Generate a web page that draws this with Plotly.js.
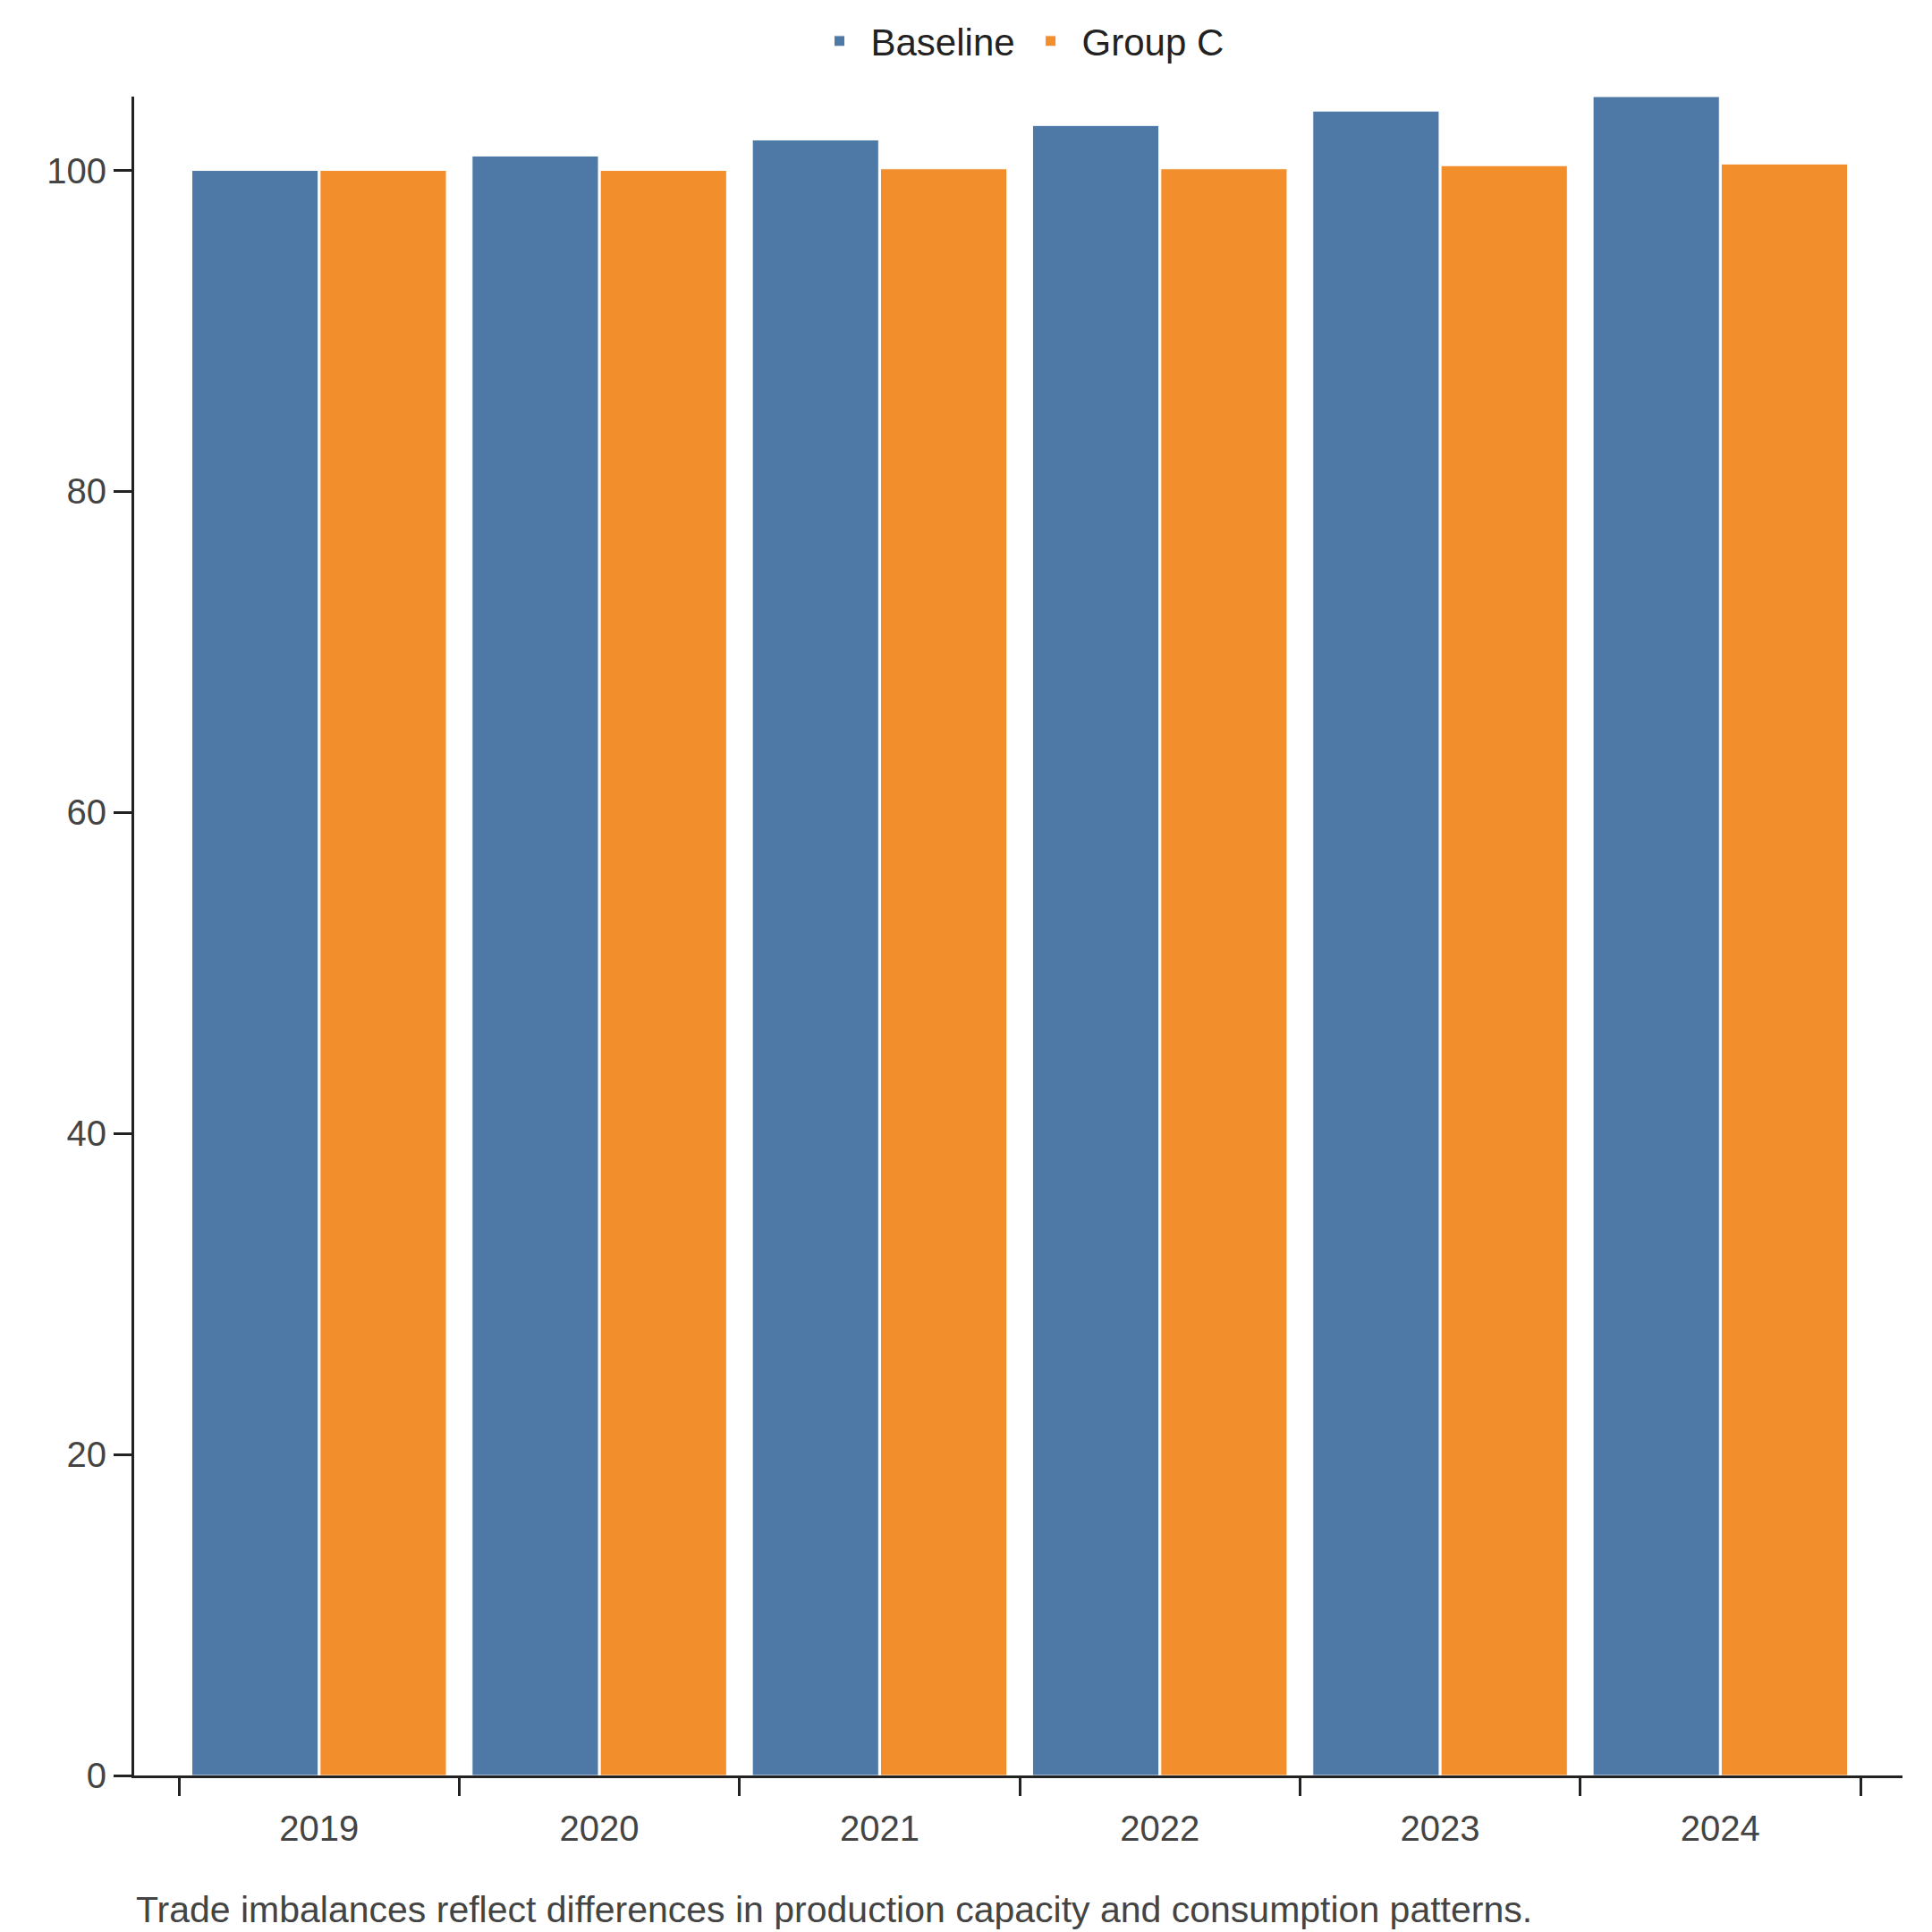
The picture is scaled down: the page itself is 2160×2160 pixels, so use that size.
<!DOCTYPE html>
<html>
<head>
<script src="https://cdn.plot.ly/plotly-3.0.1.min.js"></script>
<style>html,body{margin:0;padding:0;background:#fff}</style>
</head>
<body>
<div id="chart" style="width:2160px;height:2160px"></div>
<script>
const years = ["2019", "2020", "2021", "2022", "2023", "2024"];
const baseline = [100, 100.9, 101.9, 102.8, 103.7, 104.6];
const groupC = [100, 100, 100.1, 100.1, 100.3, 100.4];

const font = "Liberation Sans, Arial, sans-serif";

const traces = [
    { x: years, y: baseline, name: "Baseline", type: "bar",
      marker: { color: "#4e79a7", line: { color: "#fff", width: 1 } } },
    { x: years, y: groupC, name: "Group C", type: "bar",
      marker: { color: "#f28e2b", line: { color: "#fff", width: 1 } } }
];

const layout = {
    width: 2160, height: 2160,
    margin: { l: 150, r: 33, t: 100, b: 175 },
    font: { family: font, size: 40, color: "#444" },
    barmode: "group",
    bargap: 0.085,
    bargroupgap: 0.015,
    showlegend: true,
    legend: { orientation: "h", x: 0.5, xanchor: "center", y: 1.033, yanchor: "middle",
              font: { size: 42, color: "#222" }, itemwidth: 60 },
    xaxis: {
        type: "category", range: [-0.66, 5.65],
        showline: true, linecolor: "#222", linewidth: 3,
        ticks: "outside", tickson: "boundaries", ticklen: 20, tickwidth: 3, tickcolor: "#222",
        ticklabelstandoff: 22,
        showgrid: false, zeroline: false
    },
    yaxis: {
        range: [0, 104.6], tickvals: [0, 20, 40, 60, 80, 100],
        showline: true, linecolor: "#222", linewidth: 3,
        ticks: "outside", ticklen: 20, tickwidth: 3, tickcolor: "#222",
        showgrid: false, zeroline: false
    },
    annotations: [{
        text: "Trade imbalances reflect differences in production capacity and consumption patterns.",
        xref: "paper", yref: "paper", x: 0, xanchor: "left", y: -0.08, yanchor: "middle",
        showarrow: false, font: { size: 41, color: "#444" }
    }],
    paper_bgcolor: "#fff", plot_bgcolor: "#fff"
};

Plotly.newPlot("chart", traces, layout, { displayModeBar: false });
</script>
</body>
</html>
